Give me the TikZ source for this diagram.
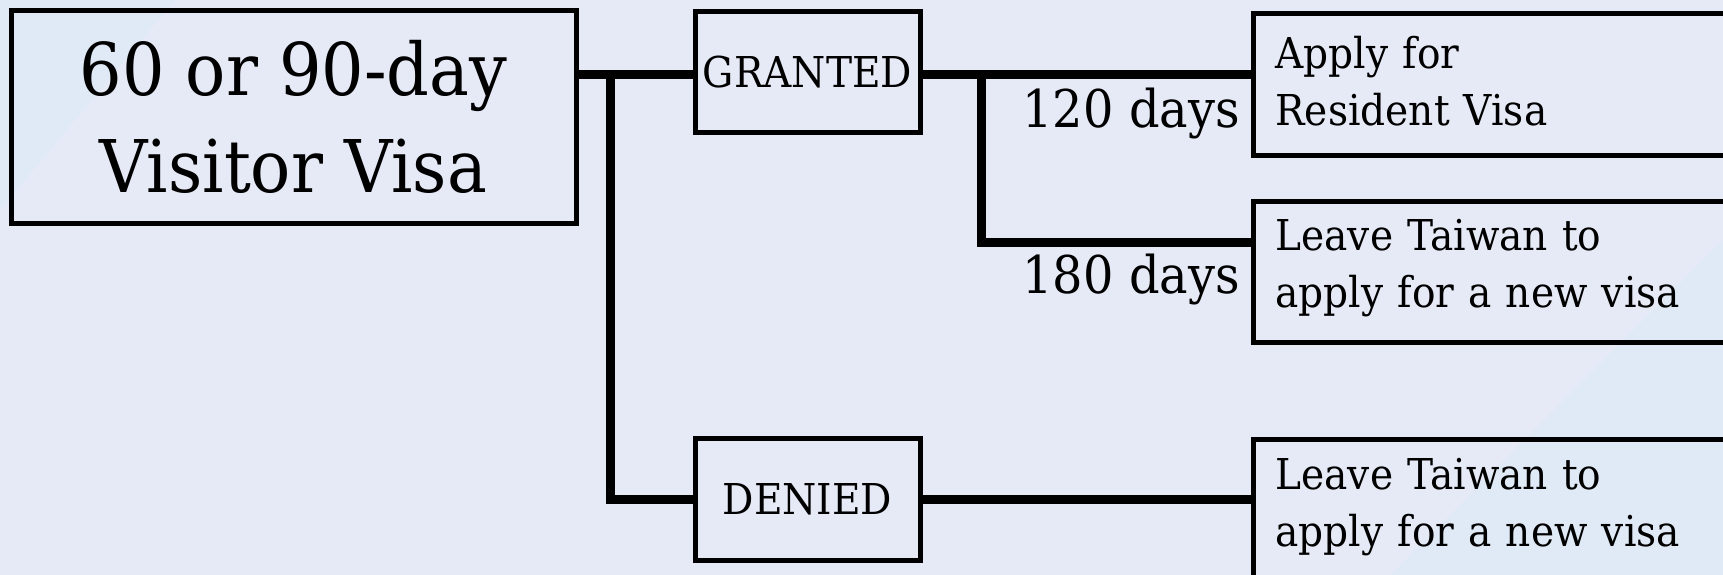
\documentclass[tikz,border=0pt]{standalone}
\usepackage{fontspec}
\setmainfont{DejaVu Serif}[FakeStretch=0.92]
\usetikzlibrary{calc}
\definecolor{bgcol}{RGB}{230,234,246}
\definecolor{bgtint}{RGB}{224,234,246}
\tikzset{
  box/.style={draw=black, line width=5pt, inner sep=0pt},
  rbox/.style={draw=black, line width=5pt, anchor=north west, minimum width=600pt,
     text width=556pt, inner xsep=22pt, inner ysep=0pt, align=left,
     font=\fontsize{42.5}{57}\selectfont},
  conn/.style={line width=9pt},
  daylab/.style={anchor=base east, inner sep=0pt, font=\fontsize{52}{60}\selectfont}
}
\begin{document}
\begin{tikzpicture}[x=1pt,y=-1pt]
\fill[bgcol] (0,0) rectangle (1723,575);
\fill[bgtint] (0,0) -- (175,0) -- (0,210) -- cycle;
\fill[bgtint] (1390,575) -- (1723,575) -- (1723,240) -- cycle;
\useasboundingbox (0,0) rectangle (1723,575);
% boxes
\node[box, minimum width=565pt, minimum height=212pt, align=center,
      font=\fontsize{72.7}{97}\selectfont] (main) at (293.5,117) {60 or 90-day\\Visitor Visa};
\node[box, minimum width=225pt, minimum height=121pt,
      font=\fontsize{42.5}{57}\selectfont] (granted) at (807.5,72.5) {GRANTED};
\node[box, minimum width=225pt, minimum height=122pt,
      font=\fontsize{42.5}{57}\selectfont] (denied) at (807.5,499) {DENIED};
\node[rbox, minimum height=142pt] (r1) at (1251,11) {Apply for\\Resident Visa\rule[-8pt]{0pt}{8pt}};
\node[rbox, minimum height=141pt] (r2) at (1251,199) {Leave Taiwan to\\apply for a new visa\rule[-18pt]{0pt}{18pt}};
\node[rbox, minimum height=142pt] (r3) at (1251,437) {Leave Taiwan to\\apply for a new visa\rule[-16pt]{0pt}{16pt}};
% junctions
\coordinate (j1) at (610,75);
\coordinate (j2) at (981,75);
\coordinate (r2in) at ($(r2.north west)+(0,43)$);
% connectors
\draw[conn] (main.east |- j1) -- (granted.west |- j1);
\draw[conn] (j1) |- (denied.west);
\draw[conn] (granted.east |- j2) -- (r1.west |- j2);
\draw[conn] (j2) |- (r2in);
\draw[conn] (denied.east) -- (denied.east -| r3.west);
% labels
\node[daylab] (d120) at (1240,128) {120 days};
\node[daylab] (d180) at (1240,293) {180 days};
\end{tikzpicture}
\end{document}
